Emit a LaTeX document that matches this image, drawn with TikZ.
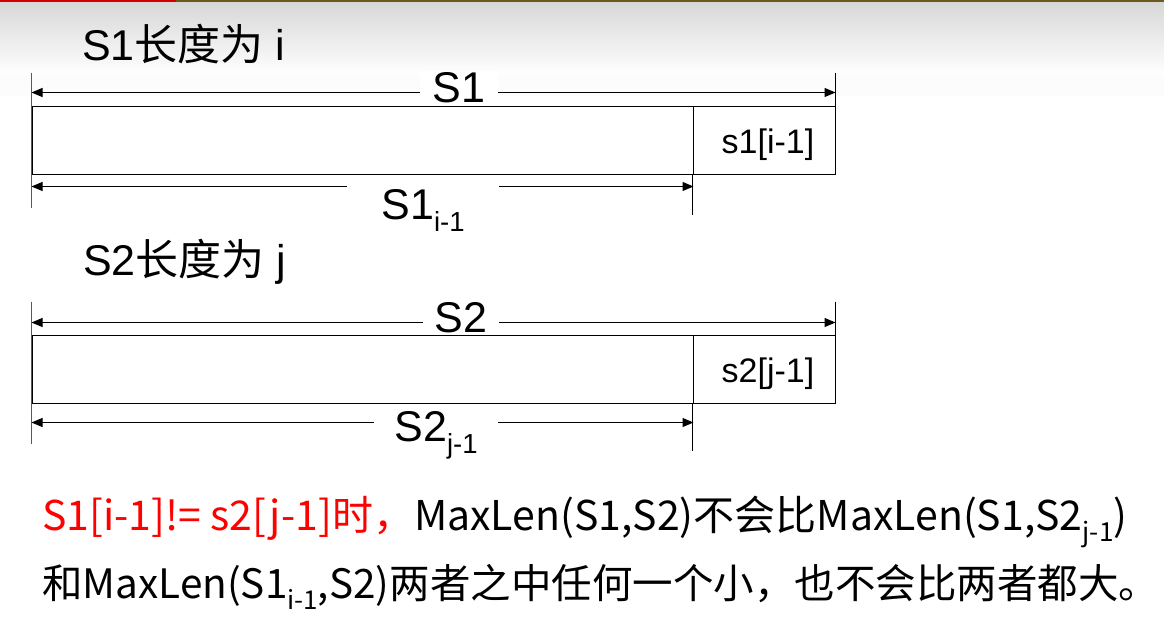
\documentclass[tikz,border=0pt]{standalone}
\usepackage{fontspec}
\setmainfont{Liberation Sans}
\newfontfamily\cjk{Noto Sans CJK SC}
\usetikzlibrary{arrows.meta}
\definecolor{topred}{HTML}{D40000}
\definecolor{topolive}{HTML}{6B5A1E}
\newcommand\lowidx[1]{\raisebox{-0.28em}{\scalebox{0.64}{#1}}}
\newcommand\fs[1]{\fontsize{#1}{#1}\selectfont}

\begin{document}
\begin{tikzpicture}[x=1pt,y=-1pt]
  \tikzset {
    cell/.style={
      rectangle,
      draw=black,
      line width=1pt,
      minimum height=68pt,
      inner sep=0pt,
      text height=27pt,
      text depth=0pt,
      font=\fs{34}
    },
    edge tick/.style={draw=black!65, line width=1.5pt},
    tick/.style={draw=black, line width=1pt},
    dimline/.style={
      {Triangle[length=11pt,width=9pt]}-{Triangle[length=11pt,width=9pt]},
      line width=1pt
    },
    lbl/.style={fill=white, anchor=base, inner ysep=1pt, font=\fs{43}},
    title/.style={anchor=base west, inner sep=0pt, font=\fs{43}},
    note/.style={anchor=base west, inner sep=0pt, font=\cjk\fs{41}}
  }
  \useasboundingbox (0,0) rectangle (1164,626);
  \shade[top color=black!16, bottom color=white] (0,0) rectangle (1164,75);
  \fill[black!1] (0,75) rectangle (1164,96);
  \draw[topred, line width=2pt] (0,1) -- (176,1);
  \draw[topolive, line width=2pt] (176,1) -- (1164,1);

  % string S1
  \node[title] (title1) at (82,60) {S1{\cjk 长度为} i};
  \node[cell, minimum width=661pt] (s1main) at (362.5,140) {};
  \node[cell, minimum width=142pt, right of=s1main, node distance=401.5pt] (s1last) {\hspace*{8pt}s1[i-1]};

  \coordinate (s1topL) at ([yshift=33pt]s1main.north west);
  \coordinate (s1botL) at ([yshift=-33pt]s1main.south west);
  \coordinate (s1topR) at ([yshift=33pt]s1last.north east);
  \coordinate (s1cut) at ([yshift=-40pt]s1last.south west);
  \draw[edge tick] (s1topL) -- (s1botL);
  \draw[tick] (s1topR) -- (s1last.north east);
  \draw[tick] (s1last.south west) -- (s1cut);

  \draw[dimline] ([yshift=13pt]s1main.north west) -- ([yshift=13pt]s1last.north east);
  \draw[dimline] ([yshift=-12pt]s1main.south west) -- ([yshift=-12pt]s1main.south east);
  \node[lbl, inner xsep=13pt] (s1len) at (459,102) {S1};
  \node[lbl, inner ysep=5pt, minimum width=152pt] (s1sub) at (423,219) {S1\lowidx{i-1}};

  % string S2
  \node[title] (title2) at (83,275) {S2{\cjk 长度为} j};
  \node[cell, minimum width=661pt, below of=s1main, node distance=229pt] (s2main) {};
  \node[cell, minimum width=142pt, right of=s2main, node distance=401.5pt] (s2last) {\hspace*{8pt}s2[j-1]};

  \coordinate (s2topL) at ([yshift=33pt]s2main.north west);
  \coordinate (s2botL) at ([yshift=-40pt]s2main.south west);
  \coordinate (s2topR) at ([yshift=33pt]s2last.north east);
  \coordinate (s2cut) at ([yshift=-47pt]s2last.south west);
  \draw[edge tick] (s2topL) -- (s2botL);
  \draw[tick] (s2topR) -- (s2last.north east);
  \draw[tick] (s2last.south west) -- (s2cut);

  \draw[dimline] ([yshift=12pt]s2main.north west) -- ([yshift=12pt]s2last.north east);
  \draw[dimline] ([yshift=-19pt]s2main.south west) -- ([yshift=-19pt]s2main.south east);
  \node[lbl, inner xsep=12pt] (s2len) at (461,332) {S2};
  \node[lbl, inner ysep=5pt, minimum width=124pt] (s2sub) at (436,441) {S2\lowidx{j-1}};

  % conclusion
  \node[note] (note1) at (42,530) {\textcolor{red}{S1[i-1]!= s2[j-1]时，}MaxLen(S1,S2)不会比MaxLen(S1,S2\lowidx{j-1})};
  \node[note, font=\cjk\fs{40.5}] (note2) at (42,598) {和MaxLen(S1\lowidx{i-1},S2)两者之中任何一个小，也不会比两者都大。};
\end{tikzpicture}
\end{document}
